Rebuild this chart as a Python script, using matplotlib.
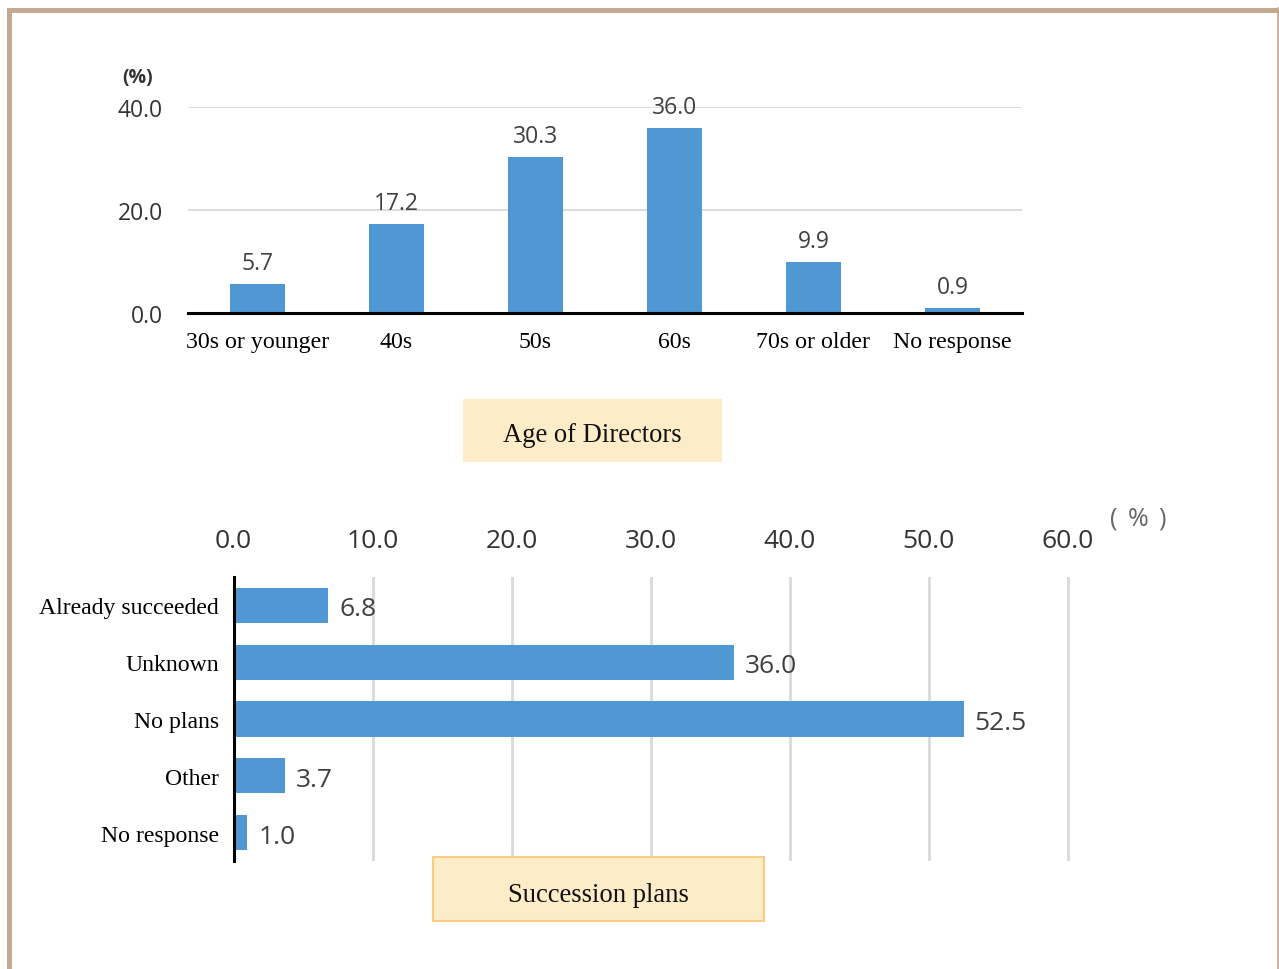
import matplotlib.pyplot as plt
from matplotlib.patches import Rectangle
from matplotlib.lines import Line2D

RESULT_FILENAME = 'out.png'

age_groups = ['30s or younger', '40s', '50s', '60s', '70s or older', 'No response']
age_share = [5.7, 17.2, 30.3, 36.0, 9.9, 0.9]

plans = ['Already succeeded', 'Unknown', 'No plans', 'Other', 'No response']
plan_share = [6.8, 36.0, 52.5, 3.7, 1.0]

BAR = '#4f98d3'
GRID = '#d9d9d9'
BOX = '#fdecc8'
FRAME = '#c4a88f'
SERIF = 'Liberation Serif'
SANS = 'Open Sans'
W, H = 1279, 970


def fx(px):
    return px / W


def fy(py):
    return 1 - py / H


fig = plt.figure(figsize=(12.79, 9.7), dpi=100)

# outer frame (left, top, right only)
fig.add_artist(Rectangle((fx(7), fy(970)), fx(5), fy(9) - fy(970),
                         transform=fig.transFigure, color=FRAME, lw=0))
fig.add_artist(Rectangle((fx(7), fy(14)), fx(1279 - 7), fy(9) - fy(14),
                         transform=fig.transFigure, color=FRAME, lw=0))
fig.add_artist(Line2D([fx(1277.5), fx(1277.5)], [fy(9), 0],
                      transform=fig.transFigure, color=FRAME, lw=1.2))

# ---- top chart: age of directors
ax1 = fig.add_axes([fx(188), fy(314), fx(1022) - fx(188), fy(108) - fy(314)])
x = range(len(age_groups))
ax1.bar(x, age_share, width=0.4, color=BAR, zorder=3)
ax1.set_xlim(-0.5, len(age_groups) - 0.5)
ax1.set_ylim(0, 40)
ax1.set_yticks([0, 20, 40])
ax1.set_yticklabels(['0.0', '20.0', '40.0'], fontfamily=SANS, fontsize=16.5,
                    color='#333333')
ax1.set_xticks(list(x))
ax1.set_xticklabels(age_groups, fontfamily=SERIF, fontsize=17.2)
ax1.tick_params(length=0, axis='y', pad=18)
ax1.tick_params(length=0, axis='x', pad=13)
ax1.grid(axis='y', color=GRID, lw=1.3, zorder=0)
for s in ['top', 'right', 'left']:
    ax1.spines[s].set_visible(False)
ax1.spines['bottom'].set_linewidth(2.2)
ax1.spines['bottom'].set_zorder(4)
for i, v in enumerate(age_share):
    ax1.annotate(f'{v:.1f}', (i, v), xytext=(0, 6.5), textcoords='offset points',
                 ha='center', va='bottom', fontfamily=SANS, fontsize=16.5,
                 color='#404040')
fig.text(fx(137.5), fy(78), '(%)', ha='center', va='center', fontsize=14,
         fontweight='bold', fontfamily=SANS, color='#333333')

# title box 1
fig.add_artist(Rectangle((fx(463), fy(463)), fx(722) - fx(463), fy(400) - fy(463),
                         transform=fig.transFigure, facecolor=BOX, lw=0))
fig.text(fx(592.5), fy(436), 'Age of Directors', ha='center', va='center',
         fontfamily=SERIF, fontsize=19.2, color='#111111')

# ---- bottom chart: succession plans
x0, x60 = 233.5, 1068
ax2 = fig.add_axes([fx(x0), fy(862), fx(x0 + (x60 - x0) * 61 / 60) - fx(x0),
                    fy(578) - fy(862)])
y = range(len(plans))
ax2.barh(y, plan_share, height=0.62, color=BAR, zorder=3)
ax2.set_xlim(0, 61)
ax2.set_ylim(len(plans) - 0.5, -0.5)
ax2.set_xticks(range(0, 61, 10))
ax2.set_xticklabels([f'{t:.1f}' for t in range(0, 61, 10)], fontfamily=SANS,
                    fontsize=19, color='#333333')
ax2.xaxis.tick_top()
ax2.set_yticks(list(y))
ax2.set_yticklabels(plans, fontfamily=SERIF, fontsize=17.1)
ax2.tick_params(axis='x', length=0, pad=17)
ax2.tick_params(axis='y', length=0, pad=10.5)
ax2.grid(axis='x', color=GRID, lw=2, zorder=0)
for s in ['top', 'right', 'bottom']:
    ax2.spines[s].set_visible(False)
ax2.spines['left'].set_linewidth(2.2)
ax2.spines['left'].set_zorder(4)
for i, v in enumerate(plan_share):
    ax2.annotate(f'{v:.1f}', (v, i), xytext=(8, -2.5), textcoords='offset points',
                 ha='left', va='center', fontfamily=SANS, fontsize=19,
                 color='#404040')
for px, ch in [(1114, '('), (1138, '%'), (1162, ')')]:
    fig.text(fx(px), fy(519), ch, ha='center', va='center', fontsize=18,
             fontfamily=SANS, color='#666666')

# title box 2
fig.add_artist(Rectangle((fx(433), fy(922)), fx(764) - fx(433), fy(858) - fy(922),
                         transform=fig.transFigure, facecolor=BOX,
                         edgecolor='#f9cd80', lw=1.5, zorder=5))
fig.text(fx(598.5), fy(895), 'Succession plans', ha='center', va='center',
         fontfamily=SERIF, fontsize=19.2, color='#111111', zorder=6)

plt.savefig(RESULT_FILENAME, dpi=100)
